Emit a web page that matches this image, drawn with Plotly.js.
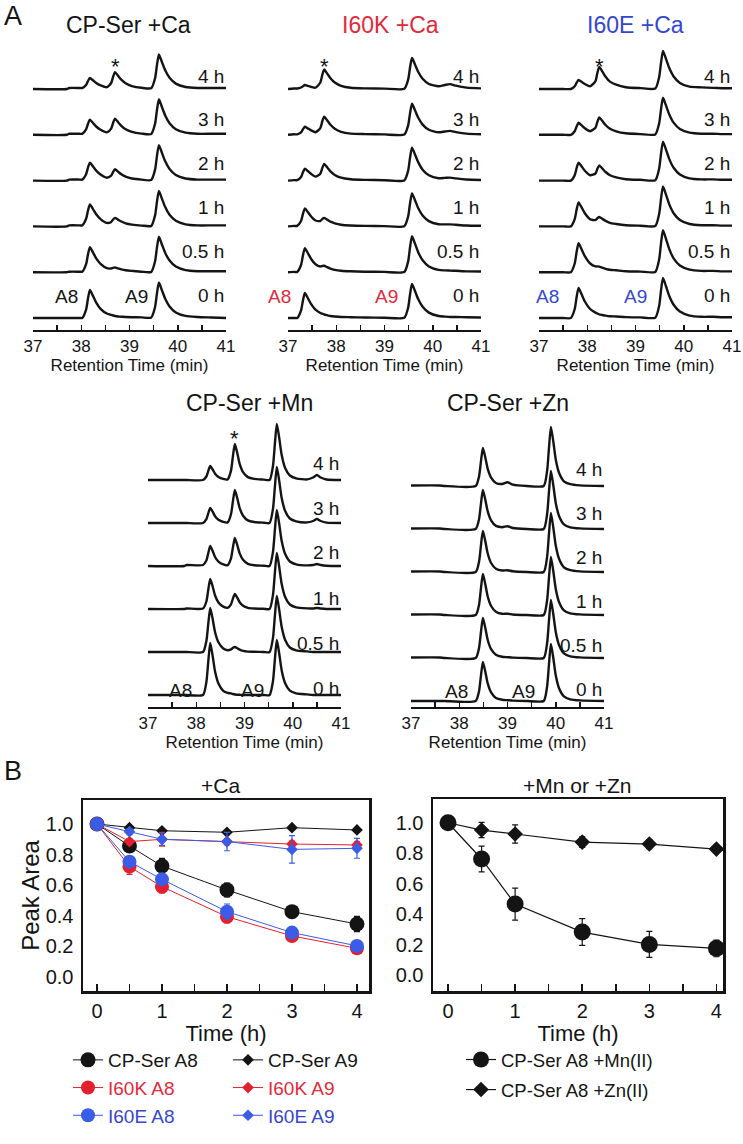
<!DOCTYPE html>
<html>
<head>
<meta charset="utf-8">
<script src="https://cdn.plot.ly/plotly-3.0.1.min.js"></script>
<style>
html,body{margin:0;padding:0;background:#fff;}
#chart{width:743px;height:1144px;}
</style>
</head>
<body>
<div id="chart"></div>
<script>
// ================= DATA =================
const timeLabels = ['0 h', '0.5 h', '1 h', '2 h', '3 h', '4 h'];
const rtTickVals = [37, 38, 39, 40, 41];
const rtTickText = ['37', '38', '39', '40', '41'];
const rtMinorTicks = [37.5, 38.5, 39.5, 40.5];

// CP-Ser +Ca : retention time grid and detector signal (0 h ... 4 h)
const cpCaRt = [37.00, 37.70, 37.75, 37.97, 38.02, 38.10, 38.14, 38.18, 38.24, 38.31, 38.40, 38.53, 38.62, 38.66, 38.70, 38.76, 38.83, 38.92, 39.05, 39.25, 39.45, 39.53, 39.57, 39.61, 39.67, 39.74, 39.83, 39.96, 40.16, 40.41, 40.70, 41.00];
const cpCaSig = [
  [0,0,0,0,0,8.4,19.6,28,22.4,15.4,9.2,4.5,3.1,2.5,2,1.5,1.3,1,0.8,0.6,0.5,11,25,35.5,28,19.3,11.6,5.6,2.1,1,0.5,0],
  [0,0,0.5,0.5,0.5,8,18,25,20,13.8,8.3,4,3.7,4.4,4.8,3.8,2.8,1.9,1.3,0.5,0.3,11,25,35.5,28,19.3,11.6,5.6,2.1,1,1,1],
  [0,0,1,1,1,7.6,15.9,22,17.6,12.1,7.3,3.5,4.5,6.9,8.5,6.8,4.9,3.1,1.8,0.8,0.5,11,25,35.5,28,19.3,11.6,5.6,2.1,1,1,1],
  [0,0,1,1,1,6.4,13,18,14.4,10,6,2.9,5,8.6,11.3,9,6.3,3.9,2.1,1,0.6,11,25,35.5,28,19.3,11.6,5.6,2.1,1,1,1],
  [0,0,1,1,1,5.5,11,15,12,8.3,5,2.4,6.2,11.9,16,12.8,9,5.5,2.9,1.2,0.8,11,25,35.5,28,19.3,11.6,5.6,2.1,1,1,1],
  [0,0,1,1,1,4,8,11,8.8,6,3.6,1.8,6,12.2,16.8,13.4,9.3,5.7,2.9,1.2,0.8,10.7,24.3,34.5,27.2,18.7,11.2,5.4,2,1,1,1]
];

// I60K +Ca
const k60Rt = [37.00, 37.12, 37.19, 37.27, 37.31, 37.35, 37.41, 37.48, 37.57, 37.67, 37.71, 37.75, 37.81, 37.88, 37.97, 38.10, 38.30, 38.60, 39.00, 39.41, 39.49, 39.53, 39.57, 39.63, 39.70, 39.79, 39.92, 40.12, 40.25, 40.36, 40.48, 40.70, 41.00];
const k60Sig = [
  [0,0,0,7.5,17.5,25,20,13.8,8.3,5,4.3,3.5,2.8,2,1.5,1,0.8,0.5,0.3,0.2,10.2,23.8,34,27.2,18.7,11.2,5.4,2,1.4,1,1,0.7,0.5],
  [0,0.3,0.3,7.2,16.8,24,19.2,13.2,7.9,5.7,6.2,6.4,5,3.6,2.4,1.5,0.9,0.5,0.3,0.2,10.8,25.2,36,28.8,19.8,11.9,5.8,2.3,1.8,1.6,1.4,0.8,0.7],
  [0,0.5,0.5,5.4,12.6,18,14.4,9.9,5.9,5.4,7.3,8.5,6.8,4.7,3.1,1.7,0.9,0.5,0.3,0.2,9.9,23.1,33,26.4,18.2,10.9,5.3,2.2,2,2,1.6,0.9,0.6],
  [0,0.5,0.5,3.6,8.4,12,9.6,6.6,4,6.9,12.5,16.7,13.3,9.3,5.7,2.9,1.3,0.7,0.4,0.2,9.9,23.1,33,26.4,18.2,10.9,5.3,2.4,2.7,3,2.2,1.1,0.6],
  [0,0.5,0.5,2.4,5.6,8,6.4,4.4,2.6,6.7,13.3,18.1,14.5,10,6.1,3,1.2,0.7,0.4,0.2,9.3,21.7,31,24.8,17,10.2,5,2.5,3.3,3.9,2.7,1.2,0.6],
  [0,0.5,0.5,1.5,2.8,4,3.2,2.2,1.3,6.5,14,19.6,15.6,10.8,6.5,3.2,1.2,0.6,0.4,0.2,9.3,21.7,31,24.8,17,10.2,5,2.7,4,4.9,3.3,1.4,0.6]
];

// I60E +Ca
const e60Rt = [37.00, 37.50, 37.66, 37.74, 37.78, 37.82, 37.88, 37.95, 38.06, 38.17, 38.21, 38.25, 38.31, 38.38, 38.47, 38.60, 38.80, 39.10, 39.41, 39.49, 39.53, 39.57, 39.63, 39.70, 39.79, 39.92, 40.12, 40.37, 40.60, 40.80, 41.00];
const e60Sig = [
  [0,0,0,9,21,30,24,16.5,9,5.4,4.5,3.6,3,2.4,1.8,1.5,0.9,0.6,0.3,12,28,40,32,22,13.2,6.4,2.4,1.2,1.2,0.8,0.8],
  [0,0,0,8.7,20.3,29,23.2,16,8.7,5.8,5.8,5.5,4.5,3.4,2.4,1.9,1,0.6,0.3,12.6,29.4,42,33.6,23.1,13.9,6.7,2.5,1.3,1.3,0.8,0.8],
  [0,0,0,7.2,16.8,24,19.2,13.2,7.2,6.3,8.2,9.4,7.6,5.5,3.5,2.4,1.2,0.7,0.4,12.3,28,40,32,22,13.2,6.4,2.4,1.2,1.2,0.8,0.8],
  [0,0,0,5.4,12.6,18,14.4,9.9,5.4,7.1,11.8,15.2,12.2,8.6,5.4,3.2,1.4,0.8,0.4,12,27.3,39,31.2,21.5,12.9,6.2,2.3,1.2,1.2,0.8,0.8],
  [0,0,0,3.6,8.4,12,9.6,6.6,3.6,7,13,17.4,14,9.8,6,3.5,1.5,0.7,0.4,11.4,25.9,37,29.6,20.4,12.2,5.9,2.2,1.1,1.1,0.7,0.7],
  [0,0,0,2.7,6.3,9,7.2,5,2.7,7.9,16.1,22.1,17.7,12.3,7.4,4.3,1.8,0.9,0.5,11.8,26.6,38,30.4,20.9,12.5,6.1,2.3,1.6,1.1,0.8,0.8]
];

// CP-Ser +Mn
const mnRt = [37.00, 37.75, 37.80, 38.14, 38.21, 38.25, 38.29, 38.34, 38.39, 38.46, 38.56, 38.65, 38.72, 38.76, 38.80, 38.85, 38.90, 38.97, 39.07, 39.20, 39.40, 39.52, 39.59, 39.63, 39.67, 39.72, 39.77, 39.84, 39.94, 40.07, 40.30, 40.42, 40.50, 40.58, 40.70, 41.00];
const mnSig = [
  [0,0,0,0,13,33.8,52,39,23.4,11.4,4.2,2.1,1.6,1,0.5,0.3,0.2,0,0,0,0,0,13.8,35.8,55,41.3,24.8,12.1,4.4,1.7,0.6,0,0,0,0,0],
  [0,0,0,0,11,28.6,44,33,19.8,9.7,3.5,1.8,2.6,4.2,5,3.8,2.3,1.1,0.4,0.2,0,0,14,36.4,56,42,25.2,12.3,4.5,1.7,0.6,0,0,0,0,0],
  [0,0,0.5,0.5,7.5,19.5,30,22.5,13.5,6.6,2.4,1.2,4.7,10.4,15,11.3,6.8,3.3,1.2,0.5,0.2,0,14,36.4,56,42,25.2,12.3,4.5,1.7,0.6,0.5,1,0.5,0,0],
  [0,0,1,1,5.5,13,20,15,9,4.4,1.6,0.8,7.6,18.6,28,21,12.6,6.2,2.2,0.8,0.3,0,14,36.4,56,42,25.2,12.3,4.5,1.7,0.6,1,2,1,0.2,0],
  [0,0,0,0,3.8,9.8,15,11.3,6.8,3.3,1.2,0.6,8.8,21.8,33,24.8,14.9,7.3,2.6,1,0.3,0,14,36.4,56,42,25.2,12.3,4.5,1.7,0.6,2,4,2,0.4,0],
  [0,0,0,0,3.5,9.1,14,10.5,6.3,3.1,1.1,0.6,9.4,23.7,36,27,16.2,7.9,2.9,1.1,0.4,0,14,36.4,56,42,25.2,12.3,4.5,1.7,0.6,2.5,5,2.5,0.5,0]
];

// CP-Ser +Zn
const znRt = [37.00, 37.60, 37.70, 38.34, 38.41, 38.45, 38.49, 38.54, 38.59, 38.66, 38.76, 38.89, 39.00, 39.11, 39.40, 39.75, 39.82, 39.86, 39.90, 39.95, 40.00, 40.07, 40.17, 40.30, 40.50, 41.00];
const znSig = [
  [0,0,0,0,9.8,25.4,39,29.3,17.6,8.6,3.1,1.2,0.8,0.4,0,0,14.3,37,57,42.8,25.7,12.5,4.6,1.7,0.6,0],
  [0.5,0.5,0,0,10,26,40,30,18,8.8,3.2,1.2,0.8,0.4,0,0,14.5,37.7,58,43.5,26.1,12.8,4.6,1.7,0.6,0],
  [0.5,0.5,0,0,10.3,26.7,41,30.8,18.5,9,3.3,1.2,1.3,0.5,0,0,14.5,37.7,58,43.5,26.1,12.8,4.6,1.7,0.6,0],
  [0.5,0.5,0,0,10.3,26.7,41,30.8,18.5,9,3.3,1.5,1.8,0.7,0,0,14.8,38.4,59,44.3,26.6,13,4.7,1.8,0.6,0],
  [0.5,0.5,0,0,9.8,25.4,39,29.3,17.6,8.6,3.1,1.8,2.8,1,0,0,14.5,37.7,58,43.5,26.1,12.8,4.6,1.7,0.6,0],
  [0.5,0.5,0,0,9.5,24.7,38,28.5,17.1,8.4,3,2,3.8,1.3,0,0,14.8,38.4,59,44.3,26.6,13,4.7,1.8,0.6,0]
];

// Panel B: relative peak area vs time
const hours = [0, 0.5, 1, 2, 3, 4];
const hourTickVals = [0, 1, 2, 3, 4];
const hourTickText = ['0', '1', '2', '3', '4'];
const hourMinorTicks = [0.5, 1.5, 2.5, 3.5];
const areaTickVals = [0, 0.2, 0.4, 0.6, 0.8, 1.0];
const areaTickText = ['0.0', '0.2', '0.4', '0.6', '0.8', '1.0'];

const cpSerA8 = [1.00, 0.856, 0.725, 0.569, 0.427, 0.346];
const cpSerA8Err = [0, 0.02, 0.05, 0.045, 0.02, 0.05];
const cpSerA9 = [1.00, 0.976, 0.956, 0.946, 0.976, 0.961];
const cpSerA9Err = [0, 0.01, 0.01, 0.01, 0.01, 0.01];
const i60kA8 = [1.00, 0.721, 0.590, 0.394, 0.268, 0.187];
const i60kA8Err = [0, 0.05, 0.04, 0.04, 0.015, 0.015];
const i60kA9 = [1.00, 0.885, 0.900, 0.885, 0.869, 0.863];
const i60kA9Err = [0, 0.02, 0.045, 0.02, 0.02, 0.02];
const i60eA8 = [1.00, 0.754, 0.638, 0.427, 0.290, 0.203];
const i60eA8Err = [0, 0.03, 0.03, 0.05, 0.02, 0.02];
const i60eA9 = [1.00, 0.950, 0.900, 0.885, 0.834, 0.841];
const i60eA9Err = [0, 0.02, 0.04, 0.06, 0.09, 0.065];

const mnA8 = [1.00, 0.762, 0.466, 0.282, 0.201, 0.175];
const mnA8Err = [0, 0.085, 0.105, 0.088, 0.085, 0.055];
const znA8 = [1.00, 0.952, 0.926, 0.873, 0.860, 0.827];
const znA8Err = [0, 0.05, 0.06, 0.035, 0.03, 0.02];

// ================= DRAWING =================
const FONT = 'Liberation Sans, Arial, Helvetica, sans-serif';
const W = 743, H = 1144;
const px = v => v / W;
const py = v => 1 - v / H;
const INK = '#141414';
const RED = '#e5202e', BLUE = '#3b5ce6';
const RED_T = '#e2293b', BLUE_T = '#3447cf';

const panels = [
  {rt: cpCaRt, sig: cpCaSig, left: 33, top: 50, bottom: 330, base: 12, step: 45.8, labTop: 76, labStep: 43.8,
   title: 'CP-Ser +Ca', tcol: INK, tx: 128, ty: 25, a8: 37.97, a9: 39.42, star: 38.70, starY: 61},
  {rt: k60Rt, sig: k60Sig, left: 288, top: 50, bottom: 330, base: 12, step: 45.8, labTop: 76, labStep: 43.8,
   title: 'I60K +Ca', tcol: RED_T, tx: 390, ty: 25, a8: 37.10, a9: 39.32, star: 37.75, starY: 60},
  {rt: e60Rt, sig: e60Sig, left: 539, top: 50, bottom: 330, base: 12, step: 45.8, labTop: 76, labStep: 43.8,
   title: 'I60E +Ca', tcol: BLUE_T, tx: 635, ty: 25, a8: 37.46, a9: 39.28, star: 38.25, starY: 61},
  {rt: mnRt, sig: mnSig, left: 148, top: 417, bottom: 707, base: 12, step: 43, labTop: 463, labStep: 45,
   title: 'CP-Ser +Mn', tcol: INK, tx: 250, ty: 403, a8: 37.95, a9: 39.45, star: 38.80, starY: 432},
  {rt: znRt, sig: znSig, left: 411, top: 417, bottom: 707, base: 6, step: 43, labTop: 469, labStep: 44,
   title: 'CP-Ser +Zn', tcol: INK, tx: 508, ty: 403, a8: 38.22, a9: 39.62, star: null, starY: 0}
];

const traces = [];
const annotations = [];
const layout = {
  width: W, height: H,
  margin: {l: 0, r: 0, t: 0, b: 0},
  paper_bgcolor: '#fff', plot_bgcolor: 'rgba(0,0,0,0)',
  font: {family: FONT, color: INK},
  showlegend: true,
  annotations: annotations
};

function txt(text, x, y, size, color, extra) {
  return Object.assign({text: text, x: px(x), y: py(y), xref: 'paper', yref: 'paper',
    xanchor: 'center', yanchor: 'middle', showarrow: false,
    font: {family: FONT, size: size, color: color || INK}}, extra || {});
}

panels.forEach((p, i) => {
  const suf = i === 0 ? '' : String(i + 1);
  const xa = 'x' + suf, ya = 'y' + suf;
  const span = p.bottom - p.top;
  layout['xaxis' + suf] = {
    domain: [px(p.left), px(p.left + 193)], range: [37, 41], anchor: ya,
    showline: true, linecolor: INK, linewidth: 2,
    ticks: 'inside', ticklen: 5, tickwidth: 1.5, tickcolor: INK,
    tickmode: 'array', tickvals: rtTickVals, ticktext: rtTickText, ticklabeloverflow: 'allow',
    minor: {tickmode: 'array', tickvals: rtMinorTicks, ticks: 'inside', ticklen: 5, tickwidth: 1.5, tickcolor: INK, showgrid: false},
    tickfont: {size: 17, family: FONT, color: INK},
    title: {text: 'Retention Time (min)', font: {size: 17, family: FONT, color: INK}, standoff: 2},
    showgrid: false, zeroline: false, fixedrange: true
  };
  layout['yaxis' + suf] = {
    domain: [py(p.bottom), py(p.top)], range: [-p.base, span - p.base], anchor: xa,
    visible: false, showgrid: false, zeroline: false, fixedrange: true
  };
  p.sig.forEach((s, k) => {
    traces.push({
      type: 'scatter', mode: 'lines', x: p.rt, y: s.map(v => v + k * p.step),
      xaxis: xa, yaxis: ya, showlegend: false, hoverinfo: 'skip',
      line: {color: INK, width: 2.4, shape: 'spline', smoothing: 0.6}
    });
    const labY = p.labTop + (5 - k) * p.labStep;
    annotations.push({text: timeLabels[k], x: 41, xref: xa, y: py(labY), yref: 'paper',
      xanchor: 'right', yanchor: 'middle', showarrow: false,
      font: {family: FONT, size: 19, color: INK}});
  });
  annotations.push(txt(p.title, p.tx, p.ty, 23, p.tcol));
  const zeroY = p.labTop + 5 * p.labStep + 2;
  annotations.push({text: 'A8', x: p.a8, xref: xa, y: py(zeroY), yref: 'paper', xanchor: 'right', yanchor: 'middle',
    showarrow: false, font: {family: FONT, size: 19, color: p.tcol}});
  annotations.push({text: 'A9', x: p.a9, xref: xa, y: py(zeroY), yref: 'paper', xanchor: 'right', yanchor: 'middle',
    showarrow: false, font: {family: FONT, size: 19, color: p.tcol}});
  if (p.star !== null) {
    annotations.push({text: '*', x: p.star, xref: xa, y: py(p.starY + 6), yref: 'paper', xanchor: 'center', yanchor: 'middle',
      showarrow: false, font: {family: FONT, size: 22, color: INK}});
  }
});

// Panel letters and B titles
annotations.push(txt('A', 13, 16, 27, INK));
annotations.push(txt('B', 13, 771, 27, INK));
annotations.push(txt('+Ca', 220, 785, 21, INK));
annotations.push(txt('+Mn or +Zn', 577, 785, 21, INK));

// Panel B axes
const bX = (dom, range, anchor) => ({
  domain: dom, range: range, anchor: anchor,
  showline: true, mirror: true, linecolor: INK, linewidth: 2.5,
  ticks: 'inside', ticklen: 7, tickwidth: 1.5, tickcolor: INK,
  tickmode: 'array', tickvals: hourTickVals, ticktext: hourTickText,
  minor: {tickmode: 'array', tickvals: hourMinorTicks, ticks: 'inside', ticklen: 7, tickwidth: 1.5, tickcolor: INK, showgrid: false},
  tickfont: {size: 20, family: FONT, color: INK},
  title: {text: 'Time (h)', font: {size: 22, family: FONT, color: INK}, standoff: 0},
  showgrid: false, zeroline: false, fixedrange: true
});
const bY = (dom, range, anchor, title) => ({
  domain: dom, range: range, anchor: anchor,
  showline: true, mirror: true, linecolor: INK, linewidth: 2.5,
  ticks: '', tickmode: 'array', tickvals: areaTickVals, ticktext: areaTickText,
  tickfont: {size: 20, family: FONT, color: INK}, ticklabelstandoff: 3,
  title: title ? {text: title, font: {size: 24, family: FONT, color: INK}, standoff: 0} : {text: ''},
  showgrid: false, zeroline: false, fixedrange: true
});
layout.xaxis6 = bX([px(83), px(369)], [-0.215, 4.185], 'y6');
layout.yaxis6 = bY([py(991), py(800)], [-0.092, 1.157], 'x6', 'Peak Area');
layout.xaxis7 = bX([px(433), px(723)], [-0.224, 4.098], 'y7');
layout.yaxis7 = bY([py(991), py(799)], [-0.105, 1.156], 'x7', null);

function series(name, y, err, color, symbol, size, lw, xa, ya, legend, group) {
  return {
    type: 'scatter', mode: 'lines+markers', name: name, x: hours, y: y,
    xaxis: xa, yaxis: ya, legend: legend, legendgroup: group,
    line: {color: color, width: lw},
    marker: {color: color, symbol: symbol, size: size, line: {width: 0}},
    error_y: {type: 'data', array: err, visible: true, color: color, thickness: 1.2, width: 3},
    hoverinfo: 'skip'
  };
}
const span = (c, t) => '<span style="color:' + c + '">' + t + '</span>';
traces.push(series('CP-Ser A8', cpSerA8, cpSerA8Err, INK, 'circle', 15, 1, 'x6', 'y6', 'legend', 'g1'));
traces.push(series('CP-Ser A9', cpSerA9, cpSerA9Err, INK, 'diamond', 9, 1, 'x6', 'y6', 'legend2', 'g2'));
traces.push(series(span(RED_T, 'I60K A8'), i60kA8, i60kA8Err, RED, 'circle', 14, 1, 'x6', 'y6', 'legend', 'g3'));
traces.push(series(span(RED_T, 'I60K A9'), i60kA9, i60kA9Err, RED, 'diamond', 9, 1, 'x6', 'y6', 'legend2', 'g4'));
traces.push(series(span(BLUE_T, 'I60E A8'), i60eA8, i60eA8Err, BLUE, 'circle', 14, 1, 'x6', 'y6', 'legend', 'g5'));
traces.push(series(span(BLUE_T, 'I60E A9'), i60eA9, i60eA9Err, BLUE, 'diamond', 9, 1, 'x6', 'y6', 'legend2', 'g6'));
traces.push(series('CP-Ser A8 +Mn(II)', mnA8, mnA8Err, INK, 'circle', 17, 1.2, 'x7', 'y7', 'legend3', 'g7'));
traces.push(series('CP-Ser A8 +Zn(II)', znA8, znA8Err, INK, 'diamond', 12, 1.2, 'x7', 'y7', 'legend3', 'g8'));

const legBase = {
  xanchor: 'left', yanchor: 'top', orientation: 'v', traceorder: 'grouped', tracegroupgap: 0,
  bgcolor: 'rgba(0,0,0,0)', borderwidth: 0, itemwidth: 30,
  font: {family: FONT, size: 19, color: INK}
};
layout.legend = Object.assign({}, legBase, {x: px(68), y: py(1041)});
layout.legend2 = Object.assign({}, legBase, {x: px(228), y: py(1041)});
layout.legend3 = Object.assign({}, legBase, {x: px(461), y: py(1041), tracegroupgap: 3,
  font: {family: FONT, size: 18.5, color: INK}});

Plotly.newPlot('chart', traces, layout, {displayModeBar: false, staticPlot: true});
</script>
</body>
</html>
